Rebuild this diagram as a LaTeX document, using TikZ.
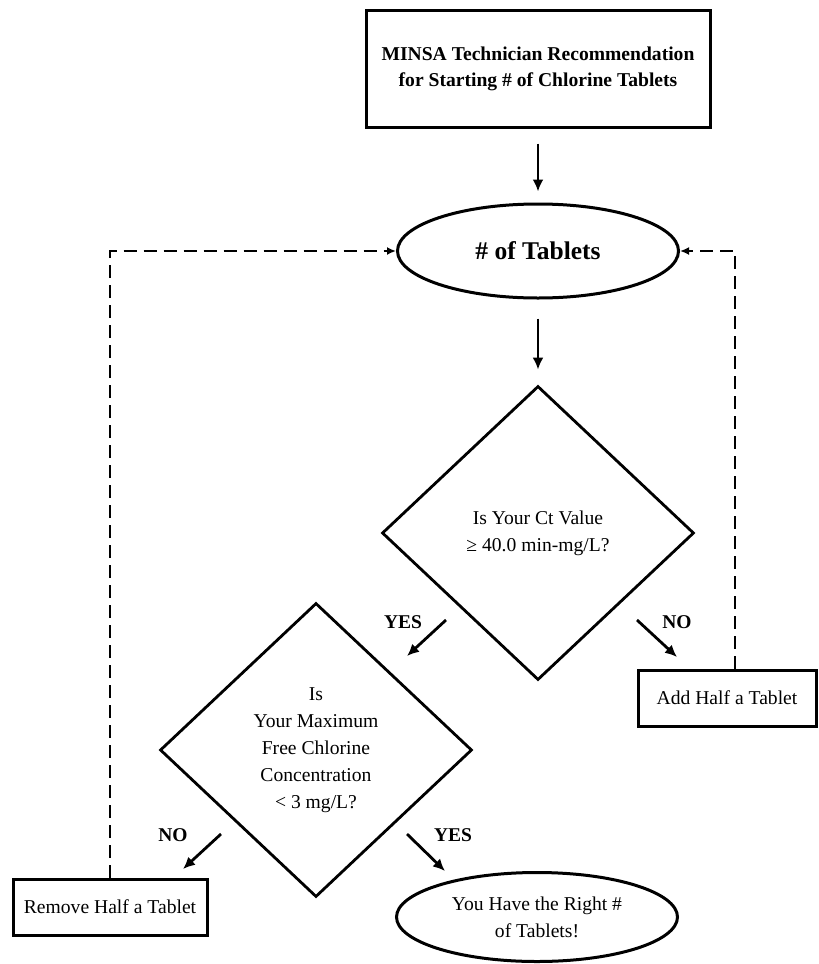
\documentclass[tikz,border=0pt]{standalone}
\usepackage{fontspec}
\setmainfont{Liberation Serif}
\usetikzlibrary{shapes.geometric, arrows.meta}

\tikzset{
  box/.style={draw, line width=3pt, inner sep=0pt, align=center},
  oval/.style={draw, ellipse, line width=3pt, inner sep=0pt, align=center},
  choice/.style={draw, diamond, line width=2.8pt, inner sep=0pt, align=center,
    minimum width=312pt, minimum height=294pt},
  arr/.style={-{Latex[length=12pt,width=11pt]}, line width=2.8pt},
  back/.style={-{Latex[length=9pt,width=8pt]}, line width=2.3pt, dash pattern=on 13pt off 7pt},
  lbl/.style={font=\bfseries\fontsize{19.5}{24}\selectfont, inner sep=0pt}
}

\begin{document}
\begin{tikzpicture}[x=1pt, y=-1pt, font=\fontsize{19.6}{27}\selectfont]
  \useasboundingbox (0,0) rectangle (819,964);
  % boxes, ovals and questions
  \node[box, minimum width=344pt, minimum height=117pt,
    font=\bfseries\fontsize{19.6}{26}\selectfont] (rec) at (538,68.5)
    {MINSA Technician Recommendation\\for Starting \# of Chlorine Tablets};
  \node[oval, minimum width=281pt, minimum height=94pt,
    font=\bfseries\fontsize{25.5}{30}\selectfont] (tab) at (538,251) {\# of Tablets};
  \node[choice] (ct) at (538,533) {Is Your Ct Value\\≥ 40.0 min-mg/L?};
  \node[choice] (fc) at (316,750) {Is\\Your Maximum\\Free Chlorine\\Concentration\\< 3 mg/L?};
  \node[box, minimum width=178pt, minimum height=56pt] (add) at (727,698) {Add Half a Tablet};
  \node[box, minimum width=194pt, minimum height=56pt] (rem) at (110,907) {Remove Half a Tablet};
  \node[oval, minimum width=281pt, minimum height=89pt] (ok) at (537,917)
    {You Have the Right \#\\of Tablets!};

  % main flow
  \draw[arr, shorten <=15pt, shorten >=11pt] (rec) -- (tab);
  \draw[arr, shorten <=19pt, shorten >=15pt] (tab) -- (ct);

  % short answer arrows
  \coordinate (yesA) at (446,620); \coordinate (yesB) at (407,656);
  \coordinate (noA) at (637,620);  \coordinate (noB) at (677,657);
  \coordinate (noC) at (221,834);  \coordinate (noD) at (183,869);
  \coordinate (yesC) at (407,834); \coordinate (yesD) at (445,871);
  \foreach \s/\e in {yesA/yesB, noA/noB, noC/noD, yesC/yesD}
    \draw[arr] (\s) -- (\e);
  \node[lbl] (yes1) at (403,622) {YES};
  \node[lbl] (no1) at (677,622) {NO};
  \node[lbl] (no2) at (173,835) {NO};
  \node[lbl] (yes2) at (453,835) {YES};

  % loops back
  \draw[back] (rem.north) |- (tab.west);
  \draw[back] ([xshift=8pt]add.north) |- (tab.east);
\end{tikzpicture}
\end{document}
